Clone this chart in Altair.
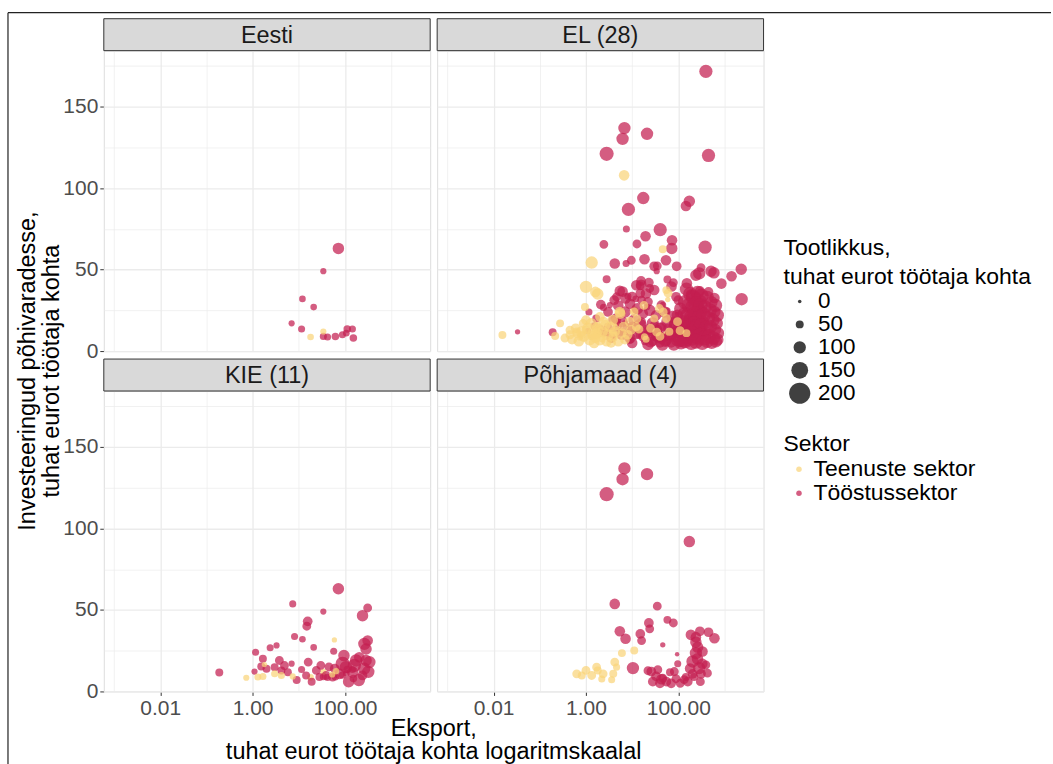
import altair as alt
import pandas as pd

# Panel names and their place in the 2 x 2 grid
EESTI = "Eesti"
EL = "EL (28)"
KIE = "KIE (11)"
POHJA = "Põhjamaad (4)"
grid_pos = {EESTI: (0, 0), EL: (0, 1), KIE: (1, 0), POHJA: (1, 1)}

sektor_nimi = {"S": "Teenuste sektor", "T": "Tööstussektor"}
sektorid = ["Teenuste sektor", "Tööstussektor"]
sektori_varvid = ["#F9D47A", "#C41E50"]

# Eesti (also shown in KIE and EL)
eesti_eksport = [72, 34, 12, 21, 7, 11.5, 34, 42, 62, 88, 112, 145, 107, 152, 34, 18]
eesti_invest = [63, 49, 32, 27, 17, 13.5, 9, 8.6, 9, 10, 13.5, 13.5, 11, 8, 12, 8.6]
eesti_tootlikkus = [90, 30, 35, 35, 30, 40, 40, 40, 45, 40, 45, 40, 35, 45, 30, 35]
eesti_sektor = ["T"] * 14 + ["S"] * 2

# Other KIE countries (also shown in EL)
kie_eksport = [7.4, 310, 240, 15.6, 14.9, 8.1, 57, 1.16, 2.4, 3.3, 0.19, 1.67,
               1.54, 1.1, 3.8, 4.9, 24, 39, 89, 174, 286, 338, 263, 310,
               286, 204, 105, 147, 76, 240, 54, 2.0, 3.0, 4.2, 5.8, 14.4,
               28, 120, 200, 160, 95, 320, 60, 45, 260, 16, 9, 30, 19,
               59, 0.73, 1.3, 1.67, 1.8, 3.0, 4.2, 7.4, 64, 53]
kie_invest = [53.7, 51.2, 46.5, 43, 40, 33.7, 24.7, 24, 26.8, 28.2, 11.6, 20,
              15.3, 12.2, 19, 15.9, 12.9, 9.8, 17, 19, 19, 18, 29.2, 31.2,
              26, 21, 14.9, 11.8, 10.8, 9.8, 8.8, 13.9, 14.9, 12.9, 11.8, 9.8,
              8.8, 6, 7, 16, 22, 12, 14, 15, 14, 18, 7, 16, 6,
              31.6, 8.4, 8.8, 9.2, 16.5, 10.8, 9.8, 9.2, 12.4, 10.4]
kie_tootlikkus = [40, 60, 90, 70, 60, 40, 40, 40, 40, 30, 50, 50,
                  50, 30, 60, 60, 60, 60, 120, 100, 90, 100, 100, 80,
                  90, 80, 100, 90, 80, 70, 60, 50, 50, 50, 50, 50,
                  50, 90, 100, 110, 90, 100, 70, 60, 100, 60, 50, 60, 50,
                  20, 30, 40, 40, 20, 40, 40, 30, 30, 30]
kie_sektor = ["T"] * 49 + ["S"] * 10

# Põhjamaad (also shown in EL)
pohja_eksport = [6.8, 6.2, 21, 2.8, 173, 4.2, 35, 58, 78, 23, 24, 15,
                 5.4, 7.2, 16, 187, 293, 450, 605, 240, 46, 94, 36, 10.4,
                 26, 33, 46, 82, 89, 134, 203, 240, 333, 282, 395, 427,
                 203, 309, 146, 220, 66, 97, 240, 262, 22, 43, 28, 40,
                 55, 70, 110, 160, 300, 180, 260, 330,
                 6.0, 11.1, 4.2, 1.7, 1.0, 0.63, 0.81, 1.33, 2.35, 3.9, 3.6, 2.2, 4.6, 1.8]
pohja_invest = [136.8, 130.2, 133.3, 121, 91.9, 53.7, 52.3, 43.9, 42, 42, 38.4, 35.3,
                36.9, 32.3, 31.2, 34.7, 36.9, 36.3, 32.6, 33.3, 28.6, 22.8, 13.3, 14.3,
                12.2, 9.2, 8.1, 12.2, 7.8, 7.2, 18.4, 23.5, 24.5, 14.3, 16.3, 11.2,
                10.8, 10.8, 8.8, 8.8, 11.8, 17, 30.2, 27.1, 12.7, 7.5, 6, 5,
                6, 5, 5, 6, 6, 14, 20, 17,
                23.5, 25.1, 18, 14.9, 12.9, 10.8, 9.8, 9.8, 10.8, 10.8, 7.2, 7.6, 14.9, 12.9]
pohja_tootlikkus = [100, 100, 100, 120, 90, 80, 60, 50, 60, 70, 60, 70,
                    80, 80, 60, 80, 70, 70, 80, 80, 20, 10, 60, 100,
                    70, 70, 60, 60, 60, 60, 100, 100, 80, 100, 60, 60,
                    70, 70, 50, 50, 50, 40, 90, 90, 60, 80, 70, 70,
                    70, 70, 60, 70, 60, 80, 90, 80,
                    50, 50, 60, 60, 60, 60, 50, 60, 60, 50, 40, 40, 40, 50]
pohja_sektor = ["T"] * 56 + ["S"] * 14

# Remaining EL countries: industry
muud_t_eksport = [395, 450, 17.4, 146, 8.3, 7.5, 40.5, 380, 2.44, 19.5, 12.7, 73,
                  9.6, 18.5, 54, 92, 2300, 1420, 510, 283, 855, 2350, 2.8, 12.3,
                  89, 4.6, 20, 0.033, 30, 590, 6.2, 15.7, 30, 71, 153, 2.1,
                  4.1, 10, 22, 43, 100,
                  150, 180, 210, 260, 320, 420, 520, 640,
                  140, 170, 200, 240, 300, 380, 480, 600, 700,
                  135, 160, 190, 230, 280, 350, 440, 560, 680,
                  145, 175, 215, 255, 310, 400, 500, 620, 720,
                  130, 165, 200, 250, 300, 370, 460, 580, 700,
                  140, 190, 240, 330, 420, 530, 650,
                  5, 7, 9, 13, 17, 24, 33, 50, 75, 110,
                  6, 8, 11, 15, 21, 28, 40, 58, 85, 120,
                  6, 9, 12, 18, 25, 36, 52, 70, 95, 125,
                  10, 22, 45, 80, 115,
                  2.5, 3.5, 4.5, 3]
muud_t_invest = [171.6, 120, 93.9, 89, 86.9, 74.9, 74.5, 63.7, 65.5, 70.4, 65.7, 68,
                 55.7, 56.3, 55.7, 52, 50.2, 45.9, 49, 47.6, 41.4, 31.8, 44, 40.4,
                 33.3, 33.3, 35.3, 11.8, 52, 48, 36.5, 40.7, 37.5, 39.6, 41.6, 28.5,
                 31.2, 33.4, 30.2, 28.2, 31.2,
                 38, 35, 33, 36, 34, 33, 30, 28,
                 30, 28, 27, 29, 28, 27, 25, 24, 22,
                 23, 22, 21, 23, 21, 22, 20, 19, 17,
                 16, 15, 17, 15, 16, 14, 15, 13, 11,
                 10, 9, 11, 9, 10, 8, 9, 8, 7,
                 6, 5, 6, 5, 6, 5, 6,
                 28, 24, 29, 26, 23, 25, 22, 24, 21, 26,
                 18, 14, 19, 16, 13, 17, 14, 18, 15, 18,
                 10, 8, 11, 9, 6, 9, 6, 10, 7, 11,
                 5, 4, 4, 4, 5,
                 12, 8, 20, 24]
muud_t_tootlikkus = [110, 110, 100, 80, 110, 40, 110, 110, 60, 80, 60, 80,
                     60, 80, 80, 70, 90, 80, 90, 100, 80, 100, 50, 80,
                     70, 60, 80, 20, 70, 90, 80, 80, 80, 80, 80, 70,
                     70, 70, 70, 70, 70,
                     110, 120, 130, 110, 120, 110, 100, 110,
                     120, 130, 120, 130, 120, 110, 120, 100, 110,
                     110, 130, 120, 130, 120, 130, 120, 110, 100,
                     120, 130, 120, 130, 120, 130, 110, 100, 100,
                     110, 130, 120, 130, 120, 130, 120, 110, 100,
                     120, 120, 130, 120, 110, 100, 100,
                     80, 90, 80, 90, 80, 90, 80, 90, 100, 100,
                     90, 80, 90, 100, 90, 100, 90, 100, 110, 110,
                     80, 90, 100, 90, 100, 100, 90, 110, 110, 120,
                     80, 90, 100, 100, 110,
                     70, 70, 80, 70]
muud_t_sektor = ["T"] * len(muud_t_eksport)

# Remaining EL countries: services
muud_s_eksport = [6.7, 46, 1.33, 1.0, 1.6, 55, 0.95, 39, 0.275, 0.45, 0.0155, 0.215,
                  0.63, 0.87, 2.0, 3.3, 5.4, 8.8, 12.3, 18.5, 30, 64, 96, 3.9,
                  1.7, 2.6, 1.8, 60, 5.5, 11, 12.6, 14, 34, 47, 109, 20,
                  0.35, 0.5, 0.7, 0.9, 1.2, 1.5, 2.0, 2.8, 3.5, 5, 7,
                  0.6, 0.8, 1.1, 1.4, 1.8, 2.3, 3, 4.2, 6, 8,
                  1.0, 1.3, 2.4, 3.8, 6.5, 9.5, 0.45, 1.6,
                  25, 40, 55, 150, 18]
muud_s_invest = [107.8, 62.5, 54.3, 39.4, 36.3, 37.4, 27.1, 26.1, 17, 12.9, 9.8, 9.2,
                 11.8, 17, 21, 14.9, 24, 18, 14.9, 8.8, 20, 11.8, 18, 8.8,
                 10.8, 15.9, 35, 35.5, 23, 24, 19.8, 13.5, 11.6, 24, 12.5, 7.3,
                 8, 7, 6, 9, 7, 5, 7, 6, 5, 6, 7,
                 14, 12, 14, 11, 13, 12, 10, 12, 11, 10,
                 19, 17, 18, 19, 15, 13, 10, 8,
                 14, 9, 20, 11, 28]
muud_s_tootlikkus = [80, 50, 100, 100, 80, 50, 50, 60, 50, 60, 50, 50,
                     60, 60, 70, 80, 80, 70, 60, 40, 50, 50, 60, 70,
                     80, 80, 90, 60, 80, 60, 60, 60, 60, 60, 60, 40,
                     60, 70, 80, 80, 90, 80, 90, 80, 70, 80, 70,
                     70, 80, 90, 80, 90, 80, 90, 80, 70, 70,
                     70, 80, 70, 80, 70, 70, 60, 70,
                     60, 60, 60, 50, 60]
muud_s_sektor = ["S"] * len(muud_s_eksport)

x_pealkiri = ["Eksport,", "tuhat eurot töötaja kohta logaritmskaalal"]
y_pealkiri = ["Investeeringud põhivaradesse,", "tuhat eurot töötaja kohta"]


def panel_rows(panels, eksport, invest, tootlikkus, sektor):
    out = []
    for p in panels:
        r, c = grid_pos[p]
        for e, i, t, s in zip(eksport, invest, tootlikkus, sektor, strict=True):
            out.append({"paneel": p, "rida": r, "veerg": c, "eksport": e,
                        "invest": i, "tootlikkus": t, "sektor": sektor_nimi[s]})
    return out


records = (
    panel_rows([EESTI, KIE, EL], eesti_eksport, eesti_invest, eesti_tootlikkus, eesti_sektor)
    + panel_rows([KIE, EL], kie_eksport, kie_invest, kie_tootlikkus, kie_sektor)
    + panel_rows([POHJA, EL], pohja_eksport, pohja_invest, pohja_tootlikkus, pohja_sektor)
    + panel_rows([EL], muud_t_eksport, muud_t_invest, muud_t_tootlikkus, muud_t_sektor)
    + panel_rows([EL], muud_s_eksport, muud_s_invest, muud_s_tootlikkus, muud_s_sektor)
)
df = pd.DataFrame(records)
df["jrk"] = range(len(df))

PANEL_W = 327
PANEL_H = 301
STRIP_H = 32
ROW_GAP = 40
COL_GAP = 7
FONT = "Liberation Sans"
TICK_FS = 21
TITLE_FS = 23.5

x_major = "datum.value == 0.01 || datum.value == 1 || datum.value == 100"
y_major = "datum.value % 50 == 0"

x_axis = alt.Axis(
    values=[0.001, 0.01, 0.1, 1, 10, 100, 1000],
    labelExpr="datum.value == 0.01 ? '0.01' : datum.value == 1 ? '1.00' : datum.value == 100 ? '100.00' : ''",
    title=None, domain=False, grid=True, gridColor="#EBEBEB",
    gridWidth={"condition": {"test": x_major, "value": 1.3}, "value": 0.7},
    tickOpacity={"condition": {"test": x_major, "value": 1}, "value": 0},
    tickColor="#333333", tickSize=4, labelColor="#4D4D4D", labelFontSize=TICK_FS,
    labelFont=FONT, labelPadding=2, labelFlush=False, labelOverlap=False,
)
y_axis = alt.Axis(
    values=[0, 25, 50, 75, 100, 125, 150, 175],
    labelExpr="datum.value % 50 == 0 ? datum.value : ''",
    title=None, domain=False, grid=True, gridColor="#EBEBEB",
    gridWidth={"condition": {"test": y_major, "value": 1.3}, "value": 0.7},
    tickOpacity={"condition": {"test": y_major, "value": 1}, "value": 0},
    tickColor="#333333", tickSize=4, labelColor="#4D4D4D", labelFontSize=TICK_FS,
    labelFont=FONT, labelPadding=2, labelFlush=False, labelOverlap=False,
)

points = alt.Chart().transform_calculate(
    suurus="datum.tootlikkus + 40"
).mark_circle(opacity=0.72, strokeWidth=0).encode(
    x=alt.X("eksport:Q", scale=alt.Scale(type="log", domain=[0.0006, 7000], nice=False), axis=x_axis),
    y=alt.Y("invest:Q", scale=alt.Scale(domain=[0, 184.3], nice=False, zero=False), axis=y_axis),
    size=alt.Size(
        "suurus:Q",
        scale=alt.Scale(type="pow", exponent=2, domain=[0, 240], range=[0, 452]),
        legend=alt.Legend(
            title=["Tootlikkus,", "tuhat eurot töötaja kohta"],
            values=[40, 90, 140, 190, 240],
            labelExpr="datum.value - 40",
            orient="none", legendX=681, legendY=187,
            symbolFillColor="#404040", symbolStrokeWidth=0, symbolOpacity=1,
            symbolOffset=5,
            titleFontSize=23, titleFontWeight="normal", titleColor="#000000",
            titleFont=FONT, titleLineHeight=29, titlePadding=1, titleLimit=400,
            labelFontSize=22.5, labelColor="#000000", labelFont=FONT,
            labelOffset=7, rowPadding=-1, labelLimit=400,
        ),
    ),
    color=alt.Color(
        "sektor:N",
        scale=alt.Scale(domain=sektorid, range=sektori_varvid),
        legend=alt.Legend(
            title="Sektor", orient="none", legendX=681, legendY=383,
            symbolType="circle", symbolSize=30, symbolOpacity=0.72,
            symbolStrokeWidth=0, symbolOffset=4,
            titleFontSize=23, titleFontWeight="normal", titleColor="#000000",
            titleFont=FONT, titlePadding=2, titleLimit=400,
            labelFontSize=23, labelColor="#000000", labelFont=FONT,
            labelOffset=3, rowPadding=0, labelLimit=400,
        ),
    ),
    order=alt.Order("jrk:Q"),
)

# Grey strip with the panel name above each plot area
strip_bg = alt.Chart().transform_aggregate(
    n="count()", groupby=["paneel"]
).mark_rect(fill="#D9D9D9", stroke="#333333", strokeWidth=1).encode(
    x=alt.value(0), x2=alt.value(PANEL_W),
    y=alt.value(-STRIP_H), y2=alt.value(0),
)
strip_text = alt.Chart().transform_aggregate(
    n="count()", groupby=["paneel"]
).mark_text(fontSize=TITLE_FS, font=FONT, color="#1A1A1A", baseline="middle").encode(
    x=alt.value(PANEL_W / 2), y=alt.value(-STRIP_H / 2 + 1),
    text="paneel:N",
)


def one_cell(panel):
    return alt.Chart().transform_filter(
        alt.datum.paneel == panel
    ).transform_aggregate(n="count()", groupby=["paneel"])


# Outer frame lines along the top and the left edge of the figure
frame_top = one_cell(EESTI).mark_rule(color="#222222", strokeWidth=1.2).encode(
    x=alt.value(-96), x2=alt.value(949), y=alt.value(-38),
)
frame_left = one_cell(EESTI).mark_rule(color="#222222", strokeWidth=1.2).encode(
    x=alt.value(-96), y=alt.value(-38), y2=alt.value(730),
)

# Shared axis titles for the whole 2 x 2 grid (first line sits at the anchor)
y_title = one_cell(EESTI).mark_text(
    text=y_pealkiri, angle=270, fontSize=TITLE_FS, font=FONT, color="#000000",
    lineHeight=24, align="center", baseline="middle",
).encode(x=alt.value(-76), y=alt.value(PANEL_H + ROW_GAP / 2))
x_title = one_cell(KIE).mark_text(
    text=x_pealkiri, fontSize=TITLE_FS, font=FONT, color="#000000",
    lineHeight=23, align="center", baseline="middle",
).encode(x=alt.value(PANEL_W + COL_GAP / 2), y=alt.value(PANEL_H + 38))

chart = alt.layer(
    frame_top, frame_left, y_title, x_title, strip_bg, strip_text, points, data=df
).properties(
    width=PANEL_W, height=PANEL_H
).facet(
    row=alt.Row("rida:O", header=alt.Header(labels=False, title=None)),
    column=alt.Column("veerg:O", header=alt.Header(labels=False, title=None)),
    spacing={"row": ROW_GAP, "column": COL_GAP},
    bounds="flush",
).properties(
    padding={"left": 6, "top": 10, "right": 0, "bottom": 0}
).configure_view(
    stroke="#333333", strokeWidth=1
).configure(background="#FFFFFF")

chart.save("out.html", embed_options={"renderer": "svg", "actions": False})
